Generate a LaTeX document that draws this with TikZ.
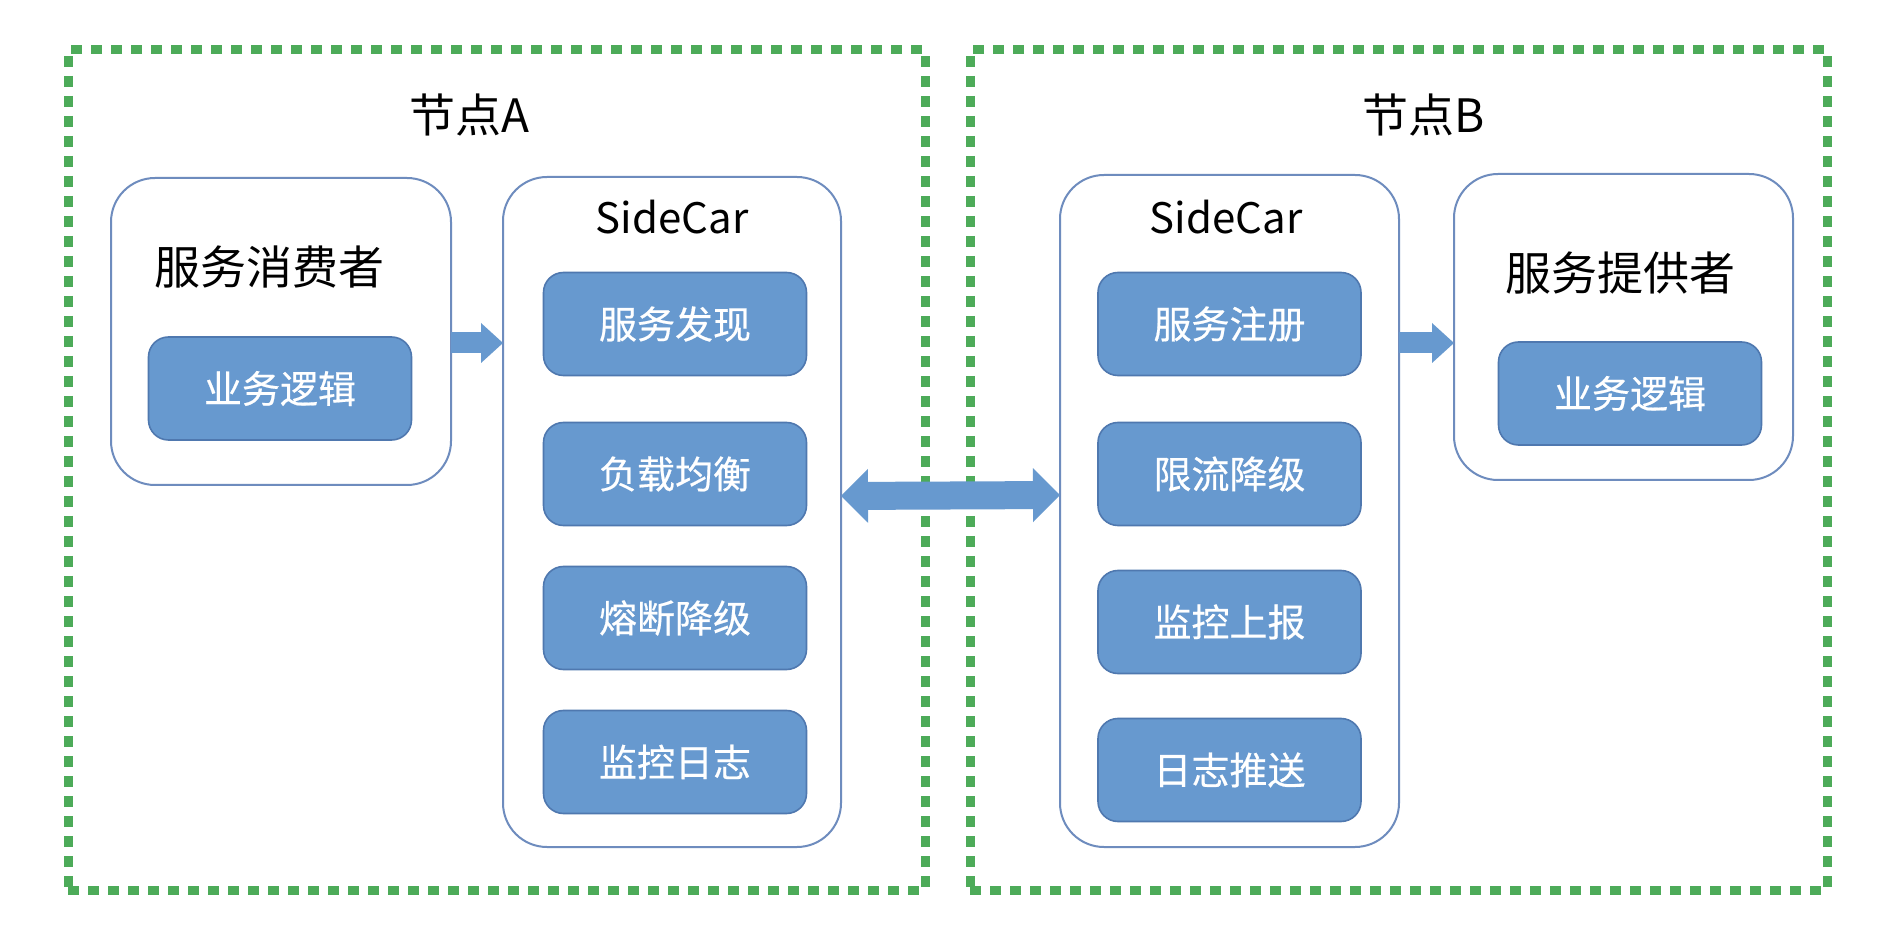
\documentclass[tikz,border=0pt]{standalone}
\usepackage{fontspec}
\setmainfont{Noto Sans CJK SC}
\newfontfamily\modulefont[FakeBold=0.5]{Noto Sans CJK SC}
\usetikzlibrary{arrows.meta}
\definecolor{nodegreen}{RGB}{77,171,89}
\definecolor{hostline}{RGB}{110,140,190}
\definecolor{moduleblue}{RGB}{103,153,207}
\definecolor{moduleline}{RGB}{79,120,175}
\begin{document}
\begin{tikzpicture}[x=0.5pt, y=-0.5pt, every node/.style={outer sep=0pt, inner sep=0pt},
    group/.style={draw=nodegreen, line width=4.5pt, dash pattern=on 5.5pt off 4.5pt, minimum width=428.5pt, minimum height=420pt},
    host/.style={draw=hostline, line width=1pt, fill=white, rounded corners=22pt},
    module/.style={draw=moduleline, line width=0.8pt, fill=moduleblue, rounded corners=10pt, text=white, minimum width=131.5pt, minimum height=51.5pt, font=\modulefont\fontsize{19pt}{22pt}\selectfont},
    caption/.style={font=\fontsize{23pt}{26pt}\selectfont},
    call/.style={draw=moduleblue, line width=10.5pt, -{Triangle[length=11pt, width=20pt, line width=0pt]}},
    link/.style={draw=moduleblue, line width=14pt, {Triangle[length=13.5pt, width=27pt, line width=0pt]}-{Triangle[length=13.5pt, width=27pt, line width=0pt]}}]
    \useasboundingbox[fill=white] (0, 0) rectangle (1886, 946);

    % Node A
    \node[group] (nodeA) at (496.5, 470) {};
    \node[caption] (titleA) at (469, 115) {节点A};
    \node[host, minimum width=170pt, minimum height=153.5pt] (consumer) at (281, 331.5) {};
    \node[font=\fontsize{23pt}{27pt}\selectfont] (consumerText) at (269, 267) {服务消费者};
    \node[module] (consumerLogic) at (280, 388.5) {业务逻辑};
    \node[host, minimum width=169pt, minimum height=335pt] (sidecarA) at (672, 512) {};
    \node[font=\fontsize{21pt}{24pt}\selectfont] (sidecarAText) at (672, 217) {SideCar};
    \node[module] (discovery) at (675, 324) {服务发现};
    \node[module] (balance) at (675, 474) {负载均衡};
    \node[module] (breaker) at (675, 618) {熔断降级};
    \node[module] (logA) at (675, 762) {监控日志};

    % Node B
    \node[group] (nodeB) at (1398.5, 470) {};
    \node[caption] (titleB) at (1424, 115) {节点B};
    \node[host, minimum width=169.5pt, minimum height=336pt] (sidecarB) at (1229.5, 511) {};
    \node[font=\fontsize{21pt}{24pt}\selectfont] (sidecarBText) at (1226, 217) {SideCar};
    \node[module] (register) at (1229.5, 324) {服务注册};
    \node[module] (limit) at (1229.5, 474) {限流降级};
    \node[module] (report) at (1229.5, 622) {监控上报};
    \node[module] (logPush) at (1229.5, 770) {日志推送};
    \node[host, minimum width=169.5pt, minimum height=153pt] (provider) at (1623.5, 327) {};
    \node[font=\fontsize{23pt}{27pt}\selectfont] (providerText) at (1620, 273) {服务提供者};
    \node[module] (providerLogic) at (1630, 393.5) {业务逻辑};

    % Arrows
    \draw[call] ([yshift=-5.75pt]consumer.east) -- ([yshift=-5.75pt]consumer.east -| sidecarA.west);
    \draw[call] ([yshift=-8pt]provider.west -| sidecarB.east) -- ([yshift=-8pt]provider.west);
    \draw[link] ([yshift=8pt]sidecarA.east) -- ([yshift=8pt]sidecarB.west);
\end{tikzpicture}
\end{document}
